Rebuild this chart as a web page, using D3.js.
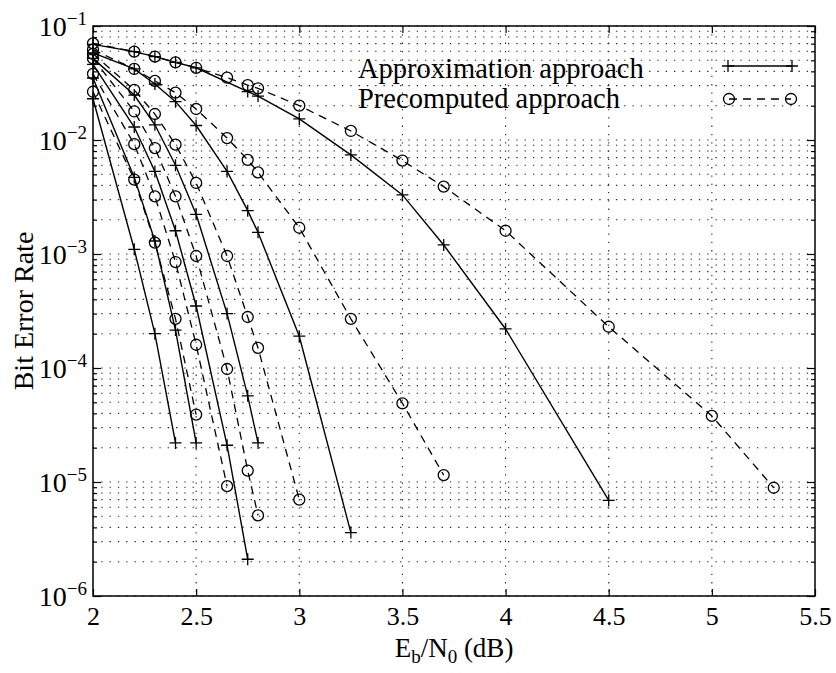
<!DOCTYPE html>
<html>
<head>
<meta charset="utf-8">
<script src="https://cdn.jsdelivr.net/npm/d3@7"></script>
<style>
  body { margin: 0; background: #fff; }
  svg { display: block; font-family: "Liberation Serif", "Times New Roman", serif; }
</style>
</head>
<body>
<div id="chart"></div>
<script>
// Eb/N0 (dB) and bit error rate, one pair of arrays per curve
// solid lines with "+" : approximation approach
const approxA_x = [2, 2.2, 2.3, 2.4];
const approxA_ber = [0.023, 0.0011, 2.0e-4, 2.2e-5];
const approxB_x = [2, 2.2, 2.3, 2.4, 2.5];
const approxB_ber = [0.035, 0.0047, 0.0013, 2.15e-4, 2.2e-5];
const approxC_x = [2, 2.2, 2.3, 2.4, 2.5, 2.65, 2.75];
const approxC_ber = [0.046, 0.013, 0.0053, 0.0016, 3.5e-4, 2.1e-5, 2.1e-6];
const approxD_x = [2, 2.2, 2.3, 2.4, 2.5, 2.65, 2.75, 2.8];
const approxD_ber = [0.052, 0.0248, 0.0136, 0.0060, 0.00223, 3.0e-4, 5.7e-5, 2.2e-5];
const approxE_x = [2, 2.2, 2.3, 2.4, 2.5, 2.65, 2.75, 2.8, 3.0, 3.25];
const approxE_ber = [0.058, 0.042, 0.031, 0.0217, 0.0134, 0.0053, 0.0024, 0.00155, 1.9e-4, 3.6e-6];
const approxF_x = [2, 2.2, 2.3, 2.4, 2.5, 2.75, 2.8, 3.0, 3.25, 3.5, 3.7, 4.0, 4.5];
const approxF_ber = [0.069, 0.0596, 0.0538, 0.048, 0.043, 0.0266, 0.0243, 0.0153, 0.0074, 0.0033, 0.0012, 2.2e-4, 6.9e-6];

// dashed lines with "o" : precomputed approach
const precA_x = [2, 2.2, 2.3, 2.4, 2.5];
const precA_ber = [0.0265, 0.0045, 0.00126, 2.7e-4, 3.9e-5];
const precB_x = [2, 2.2, 2.3, 2.4, 2.5, 2.65];
const precB_ber = [0.038, 0.0092, 0.0032, 8.5e-4, 1.6e-4, 9.2e-6];
const precC_x = [2, 2.2, 2.3, 2.4, 2.5, 2.65, 2.75, 2.8];
const precC_ber = [0.052, 0.0178, 0.0085, 0.0032, 9.6e-4, 9.8e-5, 1.26e-5, 5.1e-6];
const precD_x = [2, 2.2, 2.3, 2.4, 2.5, 2.65, 2.75, 2.8, 3.0];
const precD_ber = [0.057, 0.0275, 0.0169, 0.0091, 0.0042, 9.6e-4, 2.8e-4, 1.5e-4, 7e-6];
const precE_x = [2, 2.2, 2.3, 2.4, 2.5, 2.65, 2.75, 2.8, 3.0, 3.25, 3.5, 3.7];
const precE_ber = [0.062, 0.042, 0.033, 0.026, 0.0187, 0.0104, 0.0067, 0.0052, 0.0017, 2.7e-4, 4.9e-5, 1.15e-5];
const precF_x = [2, 2.2, 2.3, 2.4, 2.5, 2.65, 2.75, 2.8, 3.0, 3.25, 3.5, 3.7, 4.0, 4.5, 5.0, 5.3];
const precF_ber = [0.0705, 0.0596, 0.0538, 0.048, 0.043, 0.0352, 0.0303, 0.0284, 0.020, 0.012, 0.0066, 0.0039, 0.0016, 2.3e-4, 3.8e-5, 8.9e-6];

const xTicks = [2, 2.5, 3, 3.5, 4, 4.5, 5, 5.5];
const xTickLabels = ["2", "2.5", "3", "3.5", "4", "4.5", "5", "5.5"];
const yDecades = [1e-6, 1e-5, 1e-4, 1e-3, 1e-2, 1e-1];
const yExponents = ["6", "5", "4", "3", "2", "1"];
const legendLabels = ["Approximation approach", "Precomputed approach"];

const width = 836, height = 673;
const margin = {top: 26, right: 21, bottom: 77, left: 93};

let svg = d3.select("#chart")
    .append("svg")
    .attr("width", width)
    .attr("height", height);

let x = d3.scaleLinear()
    .domain([2, 5.5])
    .range([margin.left, width - margin.right]);
let y = d3.scaleLog()
    .domain([1e-6, 1e-1])
    .range([height - margin.bottom, margin.top]);

// minor values of the log axis: 2..9 x 10^k
let yMinor = [];
for (let k = -6; k < -1; k++) {
    for (let m = 2; m <= 9; m++) yMinor.push(m * Math.pow(10, k));
}

// dotted grid
let grid = svg.append("g")
    .attr("stroke", "#222")
    .attr("stroke-width", 1.1)
    .attr("stroke-dasharray", "1.3,7");
grid.selectAll(".hg")
    .data(yDecades.concat(yMinor))
    .enter().append("line")
    .attr("x1", x(2)).attr("x2", x(5.5))
    .attr("y1", d => y(d)).attr("y2", d => y(d));
grid.selectAll(".vg")
    .data(xTicks.slice(1, -1))
    .enter().append("line")
    .attr("y1", y(1e-1)).attr("y2", y(1e-6))
    .attr("x1", d => x(d)).attr("x2", d => x(d));

// axes, ticks pointing in
let xAxis = svg.append("g")
    .attr("transform", `translate(0, ${y(1e-6)})`)
    .call(d3.axisBottom(x).tickValues(xTicks).tickSizeInner(-7).tickSizeOuter(0).tickPadding(11)
        .tickFormat((d, i) => xTickLabels[i]));
svg.append("g")
    .attr("transform", `translate(0, ${y(1e-1)})`)
    .call(d3.axisTop(x).tickValues(xTicks).tickSizeInner(-7).tickSizeOuter(0).tickFormat(""));

let yAxis = svg.append("g")
    .attr("transform", `translate(${x(2)}, 0)`)
    .call(d3.axisLeft(y).tickValues(yDecades).tickSizeInner(-8).tickSizeOuter(0).tickPadding(6)
        .tickFormat(""));
svg.append("g")
    .attr("transform", `translate(${x(2)}, 0)`)
    .call(d3.axisLeft(y).tickValues(yMinor).tickSizeInner(-4).tickSizeOuter(0).tickFormat(""));
svg.append("g")
    .attr("transform", `translate(${x(5.5)}, 0)`)
    .call(d3.axisRight(y).tickValues(yDecades).tickSizeInner(-8).tickSizeOuter(0).tickFormat(""));
svg.append("g")
    .attr("transform", `translate(${x(5.5)}, 0)`)
    .call(d3.axisRight(y).tickValues(yMinor).tickSizeInner(-4).tickSizeOuter(0).tickFormat(""));

svg.selectAll(".domain").remove();
svg.selectAll(".tick line").attr("stroke", "#000").attr("stroke-width", 1.2);

xAxis.selectAll("text")
    .attr("font-size", 26)
    .attr("font-family", "Liberation Serif")
    .attr("fill", "#000");

// 10^-k labels
yAxis.selectAll(".tick text")
    .attr("font-size", 28)
    .attr("font-family", "Liberation Serif")
    .attr("fill", "#000")
    .attr("x", -6)
    .attr("dy", "0.34em")
    .each(function (d, i) {
        let t = d3.select(this);
        t.text("10");
        t.append("tspan")
            .attr("dy", -11)
            .attr("font-size", 19)
            .text("\u2212" + yExponents[i]);
    });

// frame
svg.append("rect")
    .attr("x", x(2)).attr("y", y(1e-1))
    .attr("width", x(5.5) - x(2))
    .attr("height", y(1e-6) - y(1e-1))
    .attr("fill", "none")
    .attr("stroke", "#000")
    .attr("stroke-width", 1.5);

// curves
let approxSeries = [
    [approxA_x, approxA_ber], [approxB_x, approxB_ber], [approxC_x, approxC_ber],
    [approxD_x, approxD_ber], [approxE_x, approxE_ber], [approxF_x, approxF_ber]
];
let precSeries = [
    [precA_x, precA_ber], [precB_x, precB_ber], [precC_x, precC_ber],
    [precD_x, precD_ber], [precE_x, precE_ber], [precF_x, precF_ber]
];
let toPoints = s => s[0].map((v, i) => ({x: v, ber: s[1][i]}));

let line = d3.line()
    .x(d => x(d.x))
    .y(d => y(d.ber));

const plusPath = "M-6,0H6M0,-6V6";

let curves = svg.append("g");
precSeries.forEach(s => {
    let pts = toPoints(s);
    curves.append("path")
        .datum(pts)
        .attr("d", line)
        .attr("fill", "none")
        .attr("stroke", "#000")
        .attr("stroke-width", 1.3)
        .attr("stroke-dasharray", "8,6");
    curves.selectAll(null)
        .data(pts)
        .enter().append("circle")
        .attr("cx", d => x(d.x))
        .attr("cy", d => y(d.ber))
        .attr("r", 5.5)
        .attr("fill", "none")
        .attr("stroke", "#000")
        .attr("stroke-width", 1.3);
});
approxSeries.forEach(s => {
    let pts = toPoints(s);
    curves.append("path")
        .datum(pts)
        .attr("d", line)
        .attr("fill", "none")
        .attr("stroke", "#000")
        .attr("stroke-width", 1.4);
    curves.selectAll(null)
        .data(pts)
        .enter().append("path")
        .attr("transform", d => `translate(${x(d.x)}, ${y(d.ber)})`)
        .attr("d", plusPath)
        .attr("fill", "none")
        .attr("stroke", "#000")
        .attr("stroke-width", 1.3);
});

// legend (no box)
let legend = svg.append("g");
legend.selectAll("text")
    .data(legendLabels)
    .enter().append("text")
    .attr("x", 358)
    .attr("y", (d, i) => 78 + i * 30)
    .attr("font-size", 28.5)
    .attr("fill", "#000")
    .text(d => d);
legend.append("line")
    .attr("x1", 728).attr("x2", 792)
    .attr("y1", 66).attr("y2", 66)
    .attr("stroke", "#000").attr("stroke-width", 1.4);
legend.selectAll(".lp")
    .data([728, 792])
    .enter().append("path")
    .attr("transform", d => `translate(${d}, 66)`)
    .attr("d", plusPath)
    .attr("stroke", "#000").attr("stroke-width", 1.3);
legend.append("line")
    .attr("x1", 729).attr("x2", 791)
    .attr("y1", 99).attr("y2", 99)
    .attr("stroke", "#000").attr("stroke-width", 1.3)
    .attr("stroke-dasharray", "8,6");
legend.selectAll(".lc")
    .data([729, 791])
    .enter().append("circle")
    .attr("cx", d => d).attr("cy", 99).attr("r", 5.5)
    .attr("fill", "none")
    .attr("stroke", "#000").attr("stroke-width", 1.3);

// axis titles
svg.append("text")
    .attr("transform", `translate(33, ${(y(1e-1) + y(1e-6)) / 2}) rotate(-90)`)
    .attr("text-anchor", "middle")
    .attr("font-size", 28)
    .attr("fill", "#000")
    .text("Bit Error Rate");

let xTitle = svg.append("text")
    .attr("x", (x(2) + x(5.5)) / 2)
    .attr("y", 657)
    .attr("text-anchor", "middle")
    .attr("font-size", 27)
    .attr("fill", "#000");
xTitle.append("tspan").text("E");
xTitle.append("tspan").attr("dy", 6).attr("font-size", 19).text("b");
xTitle.append("tspan").attr("dy", -6).text("/N");
xTitle.append("tspan").attr("dy", 6).attr("font-size", 19).text("0");
xTitle.append("tspan").attr("dy", -6).text(" (dB)");
</script>
</body>
</html>
